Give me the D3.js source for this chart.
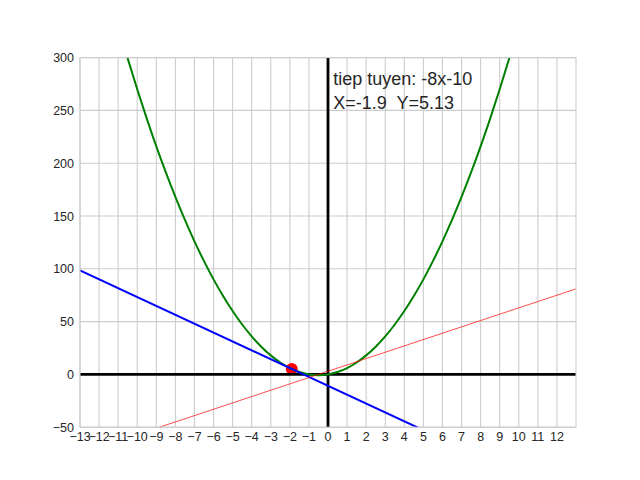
<!DOCTYPE html>
<html><head><meta charset="utf-8">
<script src="https://cdn.jsdelivr.net/npm/d3@7"></script>
<style>body{margin:0;background:#fff}svg{display:block}text{font-family:"Liberation Sans",Arial,sans-serif;fill:#262626}</style>
</head><body><svg id="c" width="640" height="480"></svg>
<script>
// parabola samples y = 3x^2 + 3x
const curveX = [-11,-10.5,-10,-9.5,-9,-8.5,-8,-7.5,-7,-6.5,-6,-5.5,-5,-4.5,-4,-3.5,-3,-2.5,-2,-1.5,-1,-0.5,0,0.5,1,1.5,2,2.5,3,3.5,4,4.5,5,5.5,6,6.5,7,7.5,8,8.5,9,9.5,10];
const curveY = [330,299.25,270,242.25,216,191.25,168,146.25,126,107.25,90,74.25,60,47.25,36,26.25,18,11.25,6,2.25,0,-0.75,0,2.25,6,11.25,18,26.25,36,47.25,60,74.25,90,107.25,126,146.25,168,191.25,216,242.25,270,299.25,330];
const tangentX = [-13, 13];
const tangentY = [98.37, -120.03];
const derivX = [-13, 13];
const derivY = [-75, 81];
const pointX = [-1.9];
const pointY = [5.13];
const xTicks = d3.range(-13, 13, 1);
const yTicks = [-50, 0, 50, 100, 150, 200, 250, 300];
const labelLines = ["tiep tuyen: -8x-10", "X=-1.9  Y=5.13"];

const L = 80, R = 576, T = 57.6, B = 427.2;
const svg = d3.select("#c");
const x = d3.scaleLinear().domain([-13, 13]).range([L, R]);
const y = d3.scaleLinear().domain([-50, 300]).range([B, T]);
const fmt = v => String(v).replace("-", "\u2212");

svg.append("defs").append("clipPath").attr("id", "clip")
  .append("rect").attr("x", L).attr("y", T).attr("width", R - L).attr("height", B - T);

// grid
const g = svg.append("g");
g.selectAll(".gx").data(xTicks).join("line")
  .attr("x1", d => x(d)).attr("x2", d => x(d)).attr("y1", T).attr("y2", B)
  .attr("stroke", "#cccccc").attr("stroke-width", 1.1);
g.selectAll(".gy").data(yTicks).join("line")
  .attr("y1", d => y(d)).attr("y2", d => y(d)).attr("x1", L).attr("x2", R)
  .attr("stroke", "#cccccc").attr("stroke-width", 1.1);

const plot = svg.append("g").attr("clip-path", "url(#clip)");
// point
plot.selectAll("circle").data(pointX).join("circle")
  .attr("cx", (d, i) => x(d)).attr("cy", (d, i) => y(pointY[i])).attr("r", 6).attr("fill", "red");
// axes lines
plot.append("line").attr("x1", L).attr("x2", R).attr("y1", y(0)).attr("y2", y(0))
  .attr("stroke", "black").attr("stroke-width", 2.8);
plot.append("line").attr("x1", x(0)).attr("x2", x(0)).attr("y1", T).attr("y2", B)
  .attr("stroke", "black").attr("stroke-width", 2.8);

const line = d3.line().x(d => x(d[0])).y(d => y(d[1]));
plot.append("path").datum(curveX.map((v, i) => [v, curveY[i]]))
  .attr("d", line.curve(d3.curveCatmullRom)).attr("fill", "none").attr("stroke", "green").attr("stroke-width", 2);
const line2 = d3.line().x(d => x(d[0])).y(d => y(d[1]));
plot.append("path").datum(tangentX.map((v, i) => [v, tangentY[i]]))
  .attr("d", line2).attr("fill", "none").attr("stroke", "blue").attr("stroke-width", 2);
plot.append("path").datum(derivX.map((v, i) => [v, derivY[i]]))
  .attr("d", line2).attr("fill", "none").attr("stroke", "red").attr("stroke-width", 0.7);

// spines
svg.append("rect").attr("x", L).attr("y", T).attr("width", R - L).attr("height", B - T)
  .attr("fill", "none").attr("stroke", "#cccccc").attr("stroke-width", 1.1);

// tick labels
svg.append("g").selectAll("text").data(xTicks).join("text")
  .attr("x", d => x(d)).attr("y", 440.8).attr("text-anchor", "middle")
  .attr("font-size", "12.5px").text(fmt);
svg.append("g").selectAll("text").data(yTicks).join("text")
  .attr("x", 74).attr("y", d => y(d)).attr("dy", "0.36em").attr("text-anchor", "end")
  .attr("font-size", "12.5px").text(fmt);

// annotation
svg.append("g").selectAll("text").data(labelLines).join("text")
  .attr("x", 333.3).attr("y", (d, i) => 85 + i * 24)
  .attr("font-size", "18px").style("white-space", "pre").attr("xml:space", "preserve").text(d => d);
</script></body></html>
